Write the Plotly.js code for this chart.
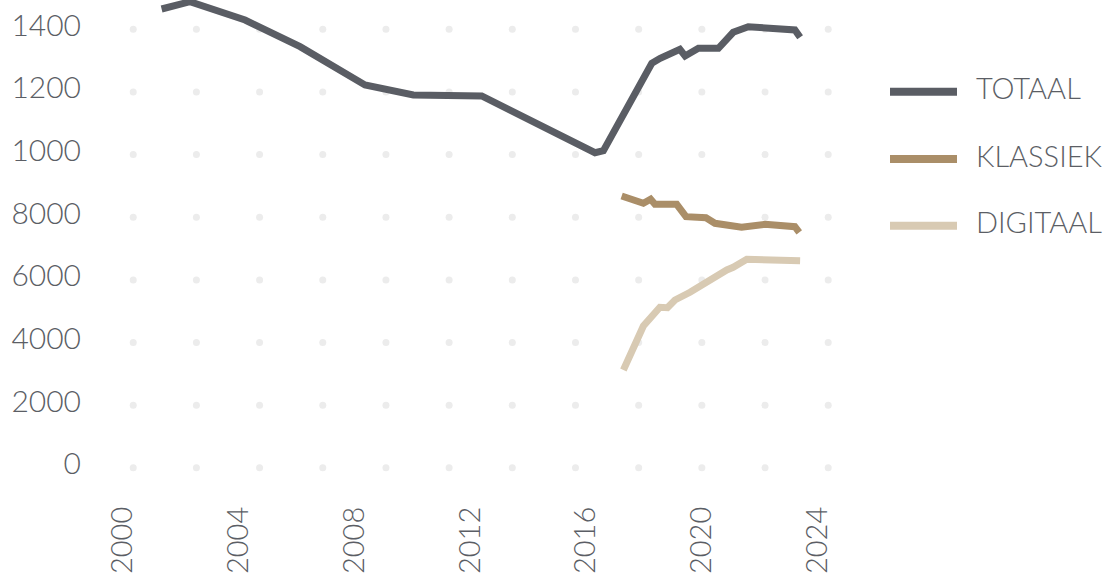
<!DOCTYPE html>
<html>
<head>
<meta charset="utf-8">
<script src="https://cdn.plot.ly/plotly-3.0.1.min.js"></script>
<style>html,body{margin:0;padding:0;background:#fff;}#chart{width:1111px;height:574px;}</style>
</head>
<body>
<div id="chart"></div>
<script>
// ---- data ----
const seriesNames = ["TOTAAL", "KLASSIEK", "DIGITAAL"];
const totaalX = [2001.35, 2002.33, 2004.23, 2006.13, 2008.37, 2010.04, 2012.40, 2013.72, 2015.79, 2016.31, 2016.60, 2018.27, 2018.56, 2019.24, 2019.42, 2019.88, 2020.57, 2020.74, 2021.08, 2021.60, 2022.35, 2023.21, 2023.39];
const totaalY = [14650, 14882, 14298, 13446, 12223, 11904, 11872, 11265, 10307, 10061, 10125, 12916, 13075, 13363, 13149, 13395, 13395, 13573, 13905, 14084, 14011, 13979, 13746];
const klassiekX = [2017.23, 2017.98, 2018.23, 2018.38, 2019.13, 2019.45, 2020.14, 2020.45, 2021.37, 2022.18, 2023.21, 2023.36];
const klassiekY = [8679, 8445, 8573, 8413, 8413, 8018, 7986, 7807, 7679, 7775, 7698, 7520];
const digitaalX = [2017.29, 2017.98, 2018.55, 2018.81, 2019.07, 2019.59, 2020.86, 2021.08, 2021.55, 2023.39];
const digitaalY = [3123, 4528, 5125, 5112, 5358, 5604, 6316, 6402, 6657, 6613];
const yTickVals = [0, 2000, 4000, 6000, 8000, 10000, 12000, 14000];
const yTickText = ["0", "2000", "4000", "6000", "8000", "1000", "1200", "1400"];
const xTickVals = [2000, 2004, 2008, 2012, 2016, 2020, 2024];
const xTickText = ["2000", "2004", "2008", "2012", "2016", "2020", "2024"];

// ---- style ----
const colors = ["#5a5d64", "#aa8e68", "#d8cab3"];
const textColor = "#5b5e65";
const fontFam = "Lato, 'Open Sans', sans-serif";
const fontW = 300;
const plotL = 100, plotR = 845, plotH = 480;
const pxPerYear = 28.97, x2000px = 122.5;
const xRange = [2000 + (plotL - x2000px) / pxPerYear, 2000 + (plotR - x2000px) / pxPerYear];
const yRange = [-390, 14937];
const dotRange = [2000.37, 2024.36];
const dotCols = 12;

// dotted grid (decoration at grid intersections)
const dotX = [], dotY = [];
for (let i = 0; i < dotCols; i++) {
  for (const v of yTickVals) {
    dotX.push(dotRange[0] + i * (dotRange[1] - dotRange[0]) / (dotCols - 1));
    dotY.push(v);
  }
}

const traces = [
  {x: dotX, y: dotY, mode: "markers", type: "scatter", hoverinfo: "skip", showlegend: false,
   marker: {size: 7, color: "#ececec"}},
  {x: totaalX, y: totaalY, name: seriesNames[0], mode: "lines", type: "scatter", showlegend: false,
   line: {color: colors[0], width: 7}},
  {x: klassiekX, y: klassiekY, name: seriesNames[1], mode: "lines", type: "scatter", showlegend: false,
   line: {color: colors[1], width: 7}},
  {x: digitaalX, y: digitaalY, name: seriesNames[2], mode: "lines", type: "scatter", showlegend: false,
   line: {color: colors[2], width: 7}}
];

// manual legend
const plotW = plotR - plotL;
const legY = [91.7, 159, 225.8];
const shapes = [], annotations = [];
seriesNames.forEach((n, i) => {
  const yp = 1 - legY[i] / plotH;
  const yt = 1 - (legY[i] - 4) / plotH;
  shapes.push({type: "line", xref: "paper", yref: "paper",
    x0: (890 - plotL) / plotW, x1: (957 - plotL) / plotW, y0: yp, y1: yp,
    line: {color: colors[i], width: 8}});
  annotations.push({xref: "paper", yref: "paper", x: (974 - plotL) / plotW, y: yt,
    xanchor: "left", yanchor: "middle", showarrow: false, text: n,
    font: {family: fontFam, size: 29, weight: fontW, color: textColor}});
});

const layout = {
  width: 1111, height: 574,
  margin: {l: plotL, r: 1111 - plotR, t: 0, b: 574 - plotH},
  paper_bgcolor: "#ffffff", plot_bgcolor: "#ffffff",
  showlegend: false,
  font: {family: fontFam, size: 29, weight: fontW, color: textColor},
  xaxis: {range: xRange, tickvals: xTickVals, ticktext: xTickText, tickangle: -90,
    showgrid: false, zeroline: false, showline: false, ticks: "", ticklabelstandoff: 20,
    tickfont: {family: fontFam, size: 29, weight: fontW, color: textColor}, fixedrange: true},
  yaxis: {range: yRange, tickvals: yTickVals, ticktext: yTickText,
    showgrid: false, zeroline: false, showline: false, ticks: "", ticklabelstandoff: 18,
    ticklabelshift: -4,
    tickfont: {family: fontFam, size: 30, weight: fontW, color: textColor}, fixedrange: true},
  shapes: shapes,
  annotations: annotations
};

Plotly.newPlot("chart", traces, layout, {displayModeBar: false, staticPlot: true});
</script>
</body>
</html>
